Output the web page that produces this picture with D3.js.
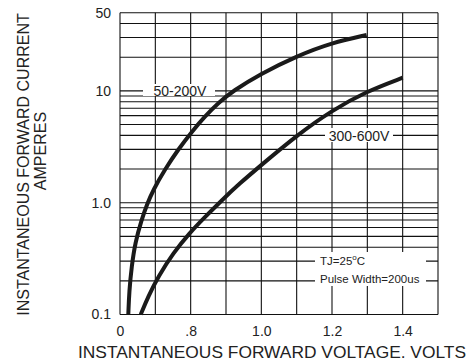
<!DOCTYPE html>
<html>
<head>
<meta charset="utf-8">
<script src="https://cdn.jsdelivr.net/npm/d3@7"></script>
<style>
  body { margin: 0; background: #fff; }
  svg { display: block; font-family: "Liberation Sans", Arial, sans-serif; }
</style>
</head>
<body>
<div id="chart"></div>
<script>
const w = 473;
const h = 361;

// x tick positions (volts) and the labels printed under them
const xTickVals = [0.6, 0.8, 1.0, 1.2, 1.4];
const xTickLabels = ['0', '.8', '1.0', '1.2', '1.4'];
const yTickVals = [0.1, 1, 10, 50];
const yTickLabels = ['0.1', '1.0', '10', '50'];

const seriesNames = ['50-200V', '300-600V'];
const lowVolts = [0.6235, 0.626, 0.633, 0.643, 0.661, 0.676, 0.694, 0.727, 0.765, 0.803, 0.84, 0.88, 0.92, 0.996, 1.10, 1.20, 1.298];
const lowAmps = [0.1, 0.16, 0.27, 0.44, 0.70, 0.96, 1.30, 1.98, 3.0, 4.3, 5.9, 7.9, 10.0, 14.1, 20.5, 27.0, 31.6];
const highVolts = [0.6586, 0.680, 0.708, 0.751, 0.798, 0.836, 0.888, 0.94, 0.996, 1.10, 1.20, 1.298, 1.40];
const highAmps = [0.1, 0.145, 0.218, 0.356, 0.54, 0.72, 1.05, 1.50, 2.12, 4.0, 6.7, 9.9, 13.1];

const plotL = 120, plotR = 438, plotT = 12.7, plotB = 314.5;

const x = d3.scaleLinear().domain([0.6, 1.5]).range([plotL, plotR]);
const y = d3.scaleLog().domain([0.1, 50]).range([plotB, plotT]);

const svg = d3.select('#chart')
  .append('svg')
  .attr('width', w)
  .attr('height', h);

svg.append('rect').attr('width', w).attr('height', h).attr('fill', '#fff');

// grid
const grid = svg.append('g').attr('stroke', '#111').attr('stroke-width', 1.1);
grid.selectAll('line.v')
  .data(x.ticks(9))
  .enter().append('line')
  .attr('class', 'v')
  .attr('x1', d => x(d)).attr('x2', d => x(d))
  .attr('y1', plotT).attr('y2', plotB);
grid.selectAll('line.h')
  .data(y.ticks())
  .enter().append('line')
  .attr('class', 'h')
  .attr('x1', plotL).attr('x2', plotR)
  .attr('y1', d => y(d)).attr('y2', d => y(d));

// white knock-outs behind the in-plot labels
svg.append('rect').attr('x', 143).attr('y', 84).attr('width', 72).attr('height', 12).attr('fill', '#fff');
svg.append('rect').attr('x', 325).attr('y', 128).attr('width', 68).attr('height', 14).attr('fill', '#fff');
svg.append('rect').attr('x', 315).attr('y', 252).attr('width', 111).attr('height', 34).attr('fill', '#fff');

const line = d3.line()
  .x(d => x(d[0]))
  .y(d => y(d[1]))
  .curve(d3.curveBasis);

const series = [d3.zip(lowVolts, lowAmps), d3.zip(highVolts, highAmps)];
svg.selectAll('path.curve')
  .data(series)
  .enter().append('path')
  .attr('class', 'curve')
  .attr('d', line)
  .attr('fill', 'none')
  .attr('stroke', '#1a1a1a')
  .attr('stroke-width', 4)
  .attr('stroke-linecap', 'butt');

svg.append('text')
  .attr('x', 180).attr('y', 96)
  .attr('text-anchor', 'middle')
  .attr('font-size', 14)
  .attr('fill', '#222')
  .text(seriesNames[0]);
svg.append('text')
  .attr('x', 359).attr('y', 140.5)
  .attr('text-anchor', 'middle')
  .attr('font-size', 14)
  .attr('fill', '#222')
  .text(seriesNames[1]);

const note = svg.append('text')
  .attr('x', 320).attr('y', 265)
  .attr('font-size', 11.5)
  .attr('fill', '#222');
note.append('tspan').text('TJ=25');
note.append('tspan').attr('font-size', 8).attr('dy', -5).text('o');
note.append('tspan').attr('dy', 5).text('C');
svg.append('text')
  .attr('x', 320).attr('y', 283)
  .attr('font-size', 11.5)
  .attr('fill', '#222')
  .text('Pulse Width=200us');

// axes
const xAxis = svg.append('g')
  .attr('transform', `translate(0, ${plotB})`)
  .call(d3.axisBottom(x).tickValues(xTickVals).tickSize(0).tickPadding(12)
    .tickFormat((d, i) => xTickLabels[i]));
xAxis.select('.domain').remove();
xAxis.selectAll('text').attr('font-size', 14).attr('fill', '#222');
xAxis.attr('font-family', null);

const yAxis = svg.append('g')
  .attr('transform', `translate(${plotL}, 0)`)
  .call(d3.axisLeft(y).tickValues(yTickVals).tickSize(0).tickPadding(9)
    .tickFormat((d, i) => yTickLabels[i]));
yAxis.select('.domain').remove();
yAxis.selectAll('text').attr('font-size', 14).attr('fill', '#222');
yAxis.attr('font-family', null);

svg.append('text')
  .attr('x', 78).attr('y', 358)
  .attr('font-size', 16.5)
  .attr('textLength', 388)
  .attr('lengthAdjust', 'spacingAndGlyphs')
  .attr('fill', '#222')
  .text('INSTANTANEOUS FORWARD VOLTAGE. VOLTS');

svg.append('text')
  .attr('transform', 'translate(29, 164.5) rotate(-90)')
  .attr('text-anchor', 'middle')
  .attr('font-size', 16)
  .attr('fill', '#222')
  .text('INSTANTANEOUS FORWARD CURRENT');
svg.append('text')
  .attr('transform', 'translate(46, 151) rotate(-90)')
  .attr('text-anchor', 'middle')
  .attr('font-size', 16)
  .attr('fill', '#222')
  .text('AMPERES');
</script>
</body>
</html>
